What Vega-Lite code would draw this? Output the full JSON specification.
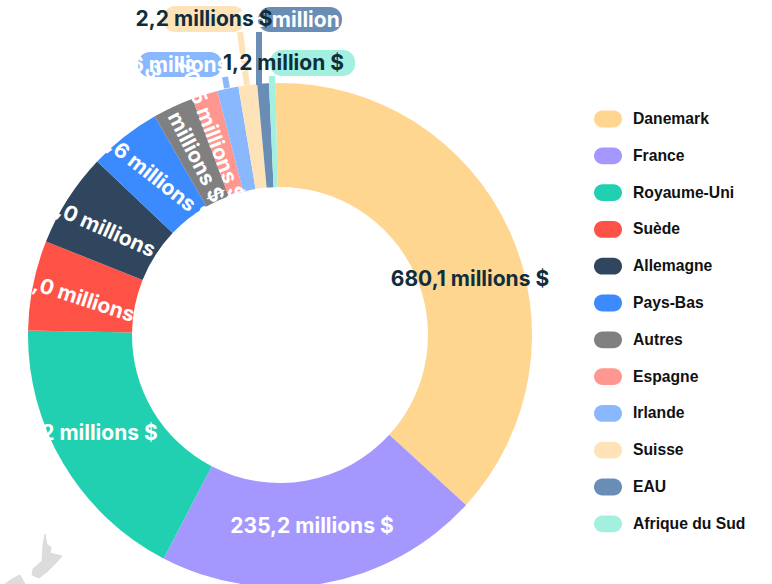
{
"$schema":"https://vega.github.io/schema/vega-lite/v6.json",
"width":772,"height":584,"padding":0,
"autosize":{"type":"none"},
"background":"white",
"config":{"view":{"stroke":null}},
"datasets":{
"slices":[
{"pays":"Danemark","debut":-1,"fin":132.4},
{"pays":"France","debut":132.4,"fin":207.5},
{"pays":"Royaume-Uni","debut":207.5,"fin":271},
{"pays":"Suède","debut":271,"fin":291.8},
{"pays":"Allemagne","debut":291.8,"fin":313.5},
{"pays":"Pays-Bas","debut":313.5,"fin":330.2},
{"pays":"Autres","debut":330.2,"fin":339.7},
{"pays":"Espagne","debut":339.7,"fin":345.6},
{"pays":"Irlande","debut":345.6,"fin":350.5},
{"pays":"Suisse","debut":350.5,"fin":354.8},
{"pays":"EAU","debut":354.8,"fin":357.5},
{"pays":"Afrique du Sud","debut":357.5,"fin":359}
],
"labels":[
{"pays":"Danemark","txt":"680,1 millions $","lx":190,"ly":-55,"tilt":0,"blanc":false},
{"pays":"France","txt":"235,2 millions $","lx":32,"ly":192,"tilt":0,"blanc":true},
{"pays":"Royaume-Uni","txt":"198,2 millions $","lx":-202,"ly":99,"tilt":0,"blanc":true},
{"pays":"Suède","txt":"65,0 millions $","lx":-200,"ly":-36,"tilt":18,"blanc":true},
{"pays":"Allemagne","txt":"60,0 millions $","lx":-178,"ly":-106,"tilt":24,"blanc":true},
{"pays":"Pays-Bas","txt":"40,6 millions $","lx":-132,"ly":-162,"tilt":38,"blanc":true},
{"pays":"Autres","txt":"30,5 millions $","lx":-97,"ly":-201,"tilt":63,"blanc":true},
{"pays":"Espagne","txt":"20,5 millions $","lx":-70,"ly":-205,"tilt":69,"blanc":true},
{"pays":"Irlande","txt":"5,6 millions $","lx":-101,"ly":-269,"tilt":0,"blanc":true},
{"pays":"EAU","txt":"1,5 million $","lx":18,"ly":-314,"tilt":0,"blanc":true},
{"pays":"Suisse","txt":"2,2 millions $","lx":-76,"ly":-315,"tilt":0,"blanc":false},
{"pays":"Afrique du Sud","txt":"1,2 million $","lx":3.5,"ly":-271,"tilt":0,"blanc":false}
],
"callouts":[
{"pays":"Irlande","px1":-142,"px2":-58,"py1":-283,"py2":-258,"ax":-53,"ay":-247,"bx":-55,"by":-258},
{"pays":"Suisse","px1":-117,"px2":-35,"py1":-329,"py2":-303,"ax":-33,"ay":-250,"bx":-40,"by":-303},
{"pays":"EAU","px1":-22,"px2":62,"py1":-328,"py2":-303,"ax":-21,"ay":-250,"bx":-21,"by":-303},
{"pays":"Afrique du Sud","px1":-10,"px2":75,"py1":-285,"py2":-259,"ax":-8,"ay":-252,"bx":-8,"by":-259}
],
"carte":[
{"ile":"nord","o":1,"cx":-235,"cy":199},{"ile":"nord","o":2,"cx":-233,"cy":210},{"ile":"nord","o":3,"cx":-229,"cy":212},{"ile":"nord","o":4,"cx":-230,"cy":218},{"ile":"nord","o":5,"cx":-218,"cy":221},{"ile":"nord","o":6,"cx":-224,"cy":228},{"ile":"nord","o":7,"cx":-232,"cy":236},{"ile":"nord","o":8,"cx":-241,"cy":243},{"ile":"nord","o":9,"cx":-248,"cy":240},{"ile":"nord","o":10,"cx":-247,"cy":234},{"ile":"nord","o":11,"cx":-238,"cy":226},{"ile":"nord","o":12,"cx":-237,"cy":210},
{"ile":"sud","o":1,"cx":-260,"cy":240},{"ile":"sud","o":2,"cx":-255,"cy":249},{"ile":"sud","o":3,"cx":-275,"cy":249},{"ile":"sud","o":4,"cx":-268,"cy":244}
]
},
"layer":[
{"data":{"name":"carte"},"mark":{"type":"line","fill":"#dcdcdc","stroke":"#dcdcdc","strokeWidth":1,"interpolate":"linear-closed"},
 "encoding":{
 "x":{"field":"cx","type":"quantitative","scale":{"domain":[-280,492],"nice":false,"zero":false},"axis":null},
 "y":{"field":"cy","type":"quantitative","scale":{"domain":[-335,249],"reverse":true,"nice":false,"zero":false},"axis":null},
 "order":{"field":"o"},"detail":{"field":"ile"}}},
{"data":{"name":"slices"},"mark":{"type":"arc","innerRadius":148,"outerRadius":252},
 "encoding":{
 "x":{"datum":0,"type":"quantitative"},
 "y":{"datum":0,"type":"quantitative"},
 "theta":{"field":"debut","type":"quantitative","scale":{"domain":[0,360],"range":[0,6.283185]}},
 "theta2":{"field":"fin"},
 "color":{"field":"pays","type":"nominal",
  "scale":{"domain":["Danemark","France","Royaume-Uni","Suède","Allemagne","Pays-Bas","Autres","Espagne","Irlande","Suisse","EAU","Afrique du Sud"],
  "range":["#FFD68F","#A498FF","#20D0B0","#FF5247","#30465E","#3B8BFF","#808080","#FF9690","#8AB8FF","#FFE3B8","#6A8DB5","#A3F0E0"]},
  "legend":{"orient":"none","legendX":594,"legendY":105,"title":null,"rowPadding":13.8,"labelFont":"Liberation Sans","labelFontWeight":"bold","labelFontSize":15.7,"labelColor":"#111111","labelOffset":11,"symbolSize":784,"symbolStrokeWidth":0,"symbolType":"M-0.4,-0.6H0.4A0.6,0.6 0 0 1 0.4,0.6H-0.4A0.6,0.6 0 0 1 -0.4,-0.6Z"}}}},
{"data":{"name":"callouts"},"mark":{"type":"rule","strokeWidth":6},
 "encoding":{
 "x":{"field":"ax","type":"quantitative"},"x2":{"field":"bx"},
 "y":{"field":"ay","type":"quantitative"},"y2":{"field":"by"},
 "color":{"field":"pays","type":"nominal","legend":null}}},
{"data":{"name":"callouts"},"mark":{"type":"rect","cornerRadius":12},
 "encoding":{
 "x":{"field":"px1","type":"quantitative"},"x2":{"field":"px2"},
 "y":{"field":"py1","type":"quantitative"},"y2":{"field":"py2"},
 "color":{"field":"pays","type":"nominal","legend":null}}},
{"data":{"name":"labels"},"transform":[{"filter":"datum.blanc"}],
 "mark":{"type":"text","font":"Inter","fontWeight":700,"fontSize":21,"color":"#ffffff","align":"center","baseline":"middle"},
 "encoding":{
 "x":{"field":"lx","type":"quantitative"},"y":{"field":"ly","type":"quantitative"},
 "angle":{"field":"tilt","type":"quantitative","scale":null},
 "text":{"field":"txt"}}},
{"data":{"name":"labels"},"transform":[{"filter":"!datum.blanc"}],
 "mark":{"type":"text","font":"Inter","fontWeight":700,"fontSize":21,"color":"#0F2E3C","align":"center","baseline":"middle"},
 "encoding":{
 "x":{"field":"lx","type":"quantitative"},"y":{"field":"ly","type":"quantitative"},
 "text":{"field":"txt"}}}
]
}
